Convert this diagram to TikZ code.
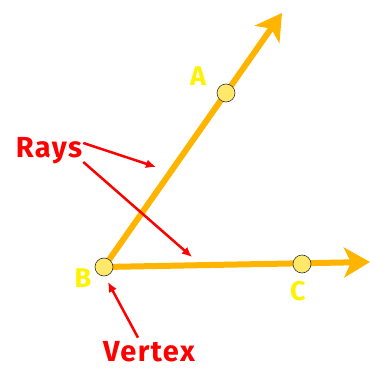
\documentclass[tikz,border=0pt]{standalone}
\usepackage{fontspec}
\setmainfont{Fira Sans}
\usetikzlibrary{arrows.meta}
\definecolor{raycol}{HTML}{FFB400}
\definecolor{dotcol}{HTML}{FFE86A}
\definecolor{lblcol}{HTML}{FFF200}
\definecolor{notecol}{HTML}{FF0000}
\begin{document}
\begin{tikzpicture}[
  x=1pt,
  y=-1pt,
  line join=round,
  ray/.style={draw=raycol,line width=6pt,-{Stealth[length=26pt,width=30pt,inset=7pt]}},
  dot/.style={circle,draw=black!80,line width=0.6pt,fill=dotcol,minimum size=18pt,inner sep=0pt},
  letter/.style={text=lblcol,font=\fontsize{27}{27}\selectfont\bfseries},
  note/.style={text=notecol,font=\fontsize{29}{29}\selectfont\bfseries\addfontfeature{LetterSpace=5},inner sep=1pt},
  pointer/.style={draw=notecol,line width=2.5pt,-{Latex[length=10pt,width=9pt]}}
]
  \useasboundingbox (0,0) rectangle (370,369);

  % Points on the angle.
  \coordinate (b) at (104,267);
  \coordinate (a) at (226,93);
  \coordinate (c) at (302,264);
  \coordinate (tipA) at (282,13);
  \coordinate (tipC) at (370,262);

  % The two rays.
  \draw[ray] (b) -- (tipA);
  \draw[ray] (b) -- (tipC);

  % Dots are drawn over the rays.
  \foreach \p/\n in {b/B,a/A,c/C} {
    \node[dot] (\n) at (\p) {};
  }

  % Point letters.
  \node[letter] (labA) at (198,76) {A};
  \node[letter] (labB) at (83,278) {B};
  \node[letter] (labC) at (298,291) {C};

  % Notes and their pointers.
  \node[note] (rays) at (49,151) {Rays};
  \node[note,anchor=base,inner sep=0pt] (vertex) at (149,361) {Vertex};
  \coordinate (rayEnd1) at (156,167);
  \coordinate (rayEnd2) at (192,257);
  \coordinate (vertEnd) at (108,282);

  \draw[pointer] ([yshift=8pt]rays.east) -- (rayEnd1);
  \draw[pointer] ([yshift=-11pt]rays.east) -- (rayEnd2);
  \draw[pointer] ([xshift=-11pt,yshift=3pt]vertex.north) -- (vertEnd);
\end{tikzpicture}
\end{document}
